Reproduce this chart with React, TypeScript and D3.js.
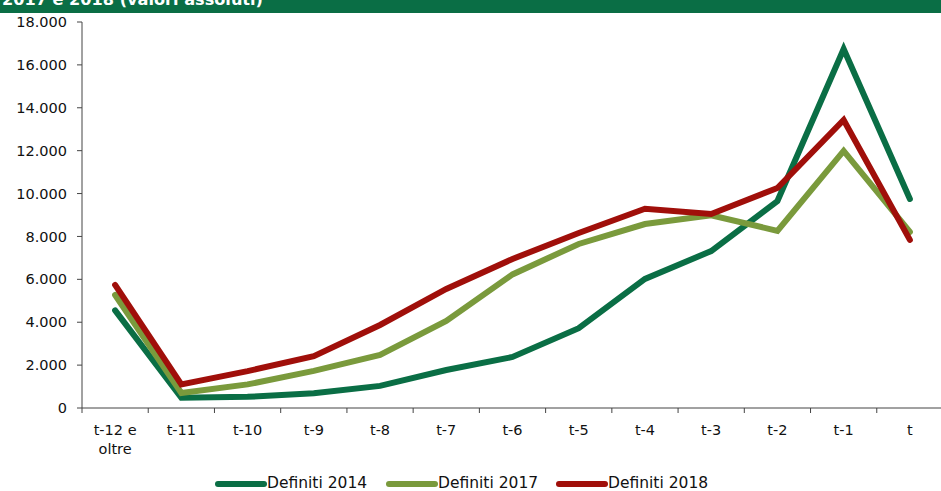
import React from "react";
import * as d3 from "d3";

const categories = ["t-12 e oltre", "t-11", "t-10", "t-9", "t-8", "t-7", "t-6", "t-5", "t-4", "t-3", "t-2", "t-1", "t"];
const definiti2014 = [4550, 480, 520, 690, 1030, 1770, 2380, 3720, 6020, 7320, 9650, 16740, 9750];
const definiti2017 = [5270, 700, 1100, 1730, 2470, 4060, 6230, 7650, 8580, 8990, 8260, 11990, 8210];
const definiti2018 = [5740, 1100, 1720, 2420, 3870, 5550, 6950, 8160, 9290, 9050, 10260, 13430, 7840];
const yTicks = [0, 2000, 4000, 6000, 8000, 10000, 12000, 14000, 16000, 18000];
const seriesNames = ["Definiti 2014", "Definiti 2017", "Definiti 2018"];
const titleText = "2017 e 2018 (valori assoluti)";

const colors = ["#0a6e45", "#7a9a3c", "#a00f0a"];

export default function App() {
  const W = 941, H = 491;
  const left = 82, right = 943, top = 22, bottom = 408;
  const x = d3.scaleBand<string>().domain(categories).range([left, right]);
  const y = d3.scaleLinear().domain([0, 18000]).range([bottom, top]);
  const line = d3.line<number>().x((_, i) => (x(categories[i]) as number) + x.bandwidth() / 2).y((d) => y(d));
  const series = [definiti2014, definiti2017, definiti2018];
  const fmt = (v: number) => (v === 0 ? "0" : d3.format(",")(v).replace(/,/g, "."));
  const font = "'DejaVu Sans', Verdana, sans-serif";
  const legendX = [218, 389, 559];
  return (
    <svg width={W} height={H} style={{ position: "absolute", left: 0, top: 0 }} fontFamily={font}>
      <rect x={0} y={0} width={W} height={13} fill="#0a6e45" />
      <text x={2} y={5} fill="#fff" fontWeight="bold" fontSize={16} textLength={261} lengthAdjust="spacingAndGlyphs">{titleText}</text>
      {/* y axis */}
      <line x1={left} x2={left} y1={top} y2={bottom} stroke="#444" strokeWidth={1} />
      {yTicks.map((t) => (
        <g key={t}>
          <line x1={left - 5} x2={left} y1={y(t)} y2={y(t)} stroke="#444" />
          <text x={left - 15} y={y(t)} dy="0.35em" textAnchor="end" fontSize={14.5} fill="#111">{fmt(t)}</text>
        </g>
      ))}
      {/* x axis */}
      <line x1={left} x2={W} y1={bottom} y2={bottom} stroke="#444" />
      {categories.map((c, i) => (
        <line key={"t" + i} x1={x(c) as number} x2={x(c) as number} y1={bottom} y2={bottom + 5} stroke="#444" />
      ))}
      {categories.map((c) => {
        const cx = (x(c) as number) + x.bandwidth() / 2;
        const parts = c === "t-12 e oltre" ? ["t-12 e", "oltre"] : [c];
        return (
          <text key={c} x={cx} y={435} textAnchor="middle" fontSize={14.5} fill="#111">
            {parts.map((p, j) => (
              <tspan key={j} x={cx} dy={j === 0 ? 0 : 19}>{p}</tspan>
            ))}
          </text>
        );
      })}
      {series.map((s, i) => (
        <path key={i} d={line(s) as string} fill="none" stroke={colors[i]} strokeWidth={6} strokeLinejoin="miter" strokeLinecap="round" />
      ))}
      {seriesNames.map((n, i) => (
        <g key={n}>
          <line x1={legendX[i]} x2={legendX[i] + 46} y1={484} y2={484} stroke={colors[i]} strokeWidth={6} strokeLinecap="round" />
          <text x={legendX[i] + 49} y={487.5} fontSize={15.5} fill="#111">{n}</text>
        </g>
      ))}
    </svg>
  );
}
